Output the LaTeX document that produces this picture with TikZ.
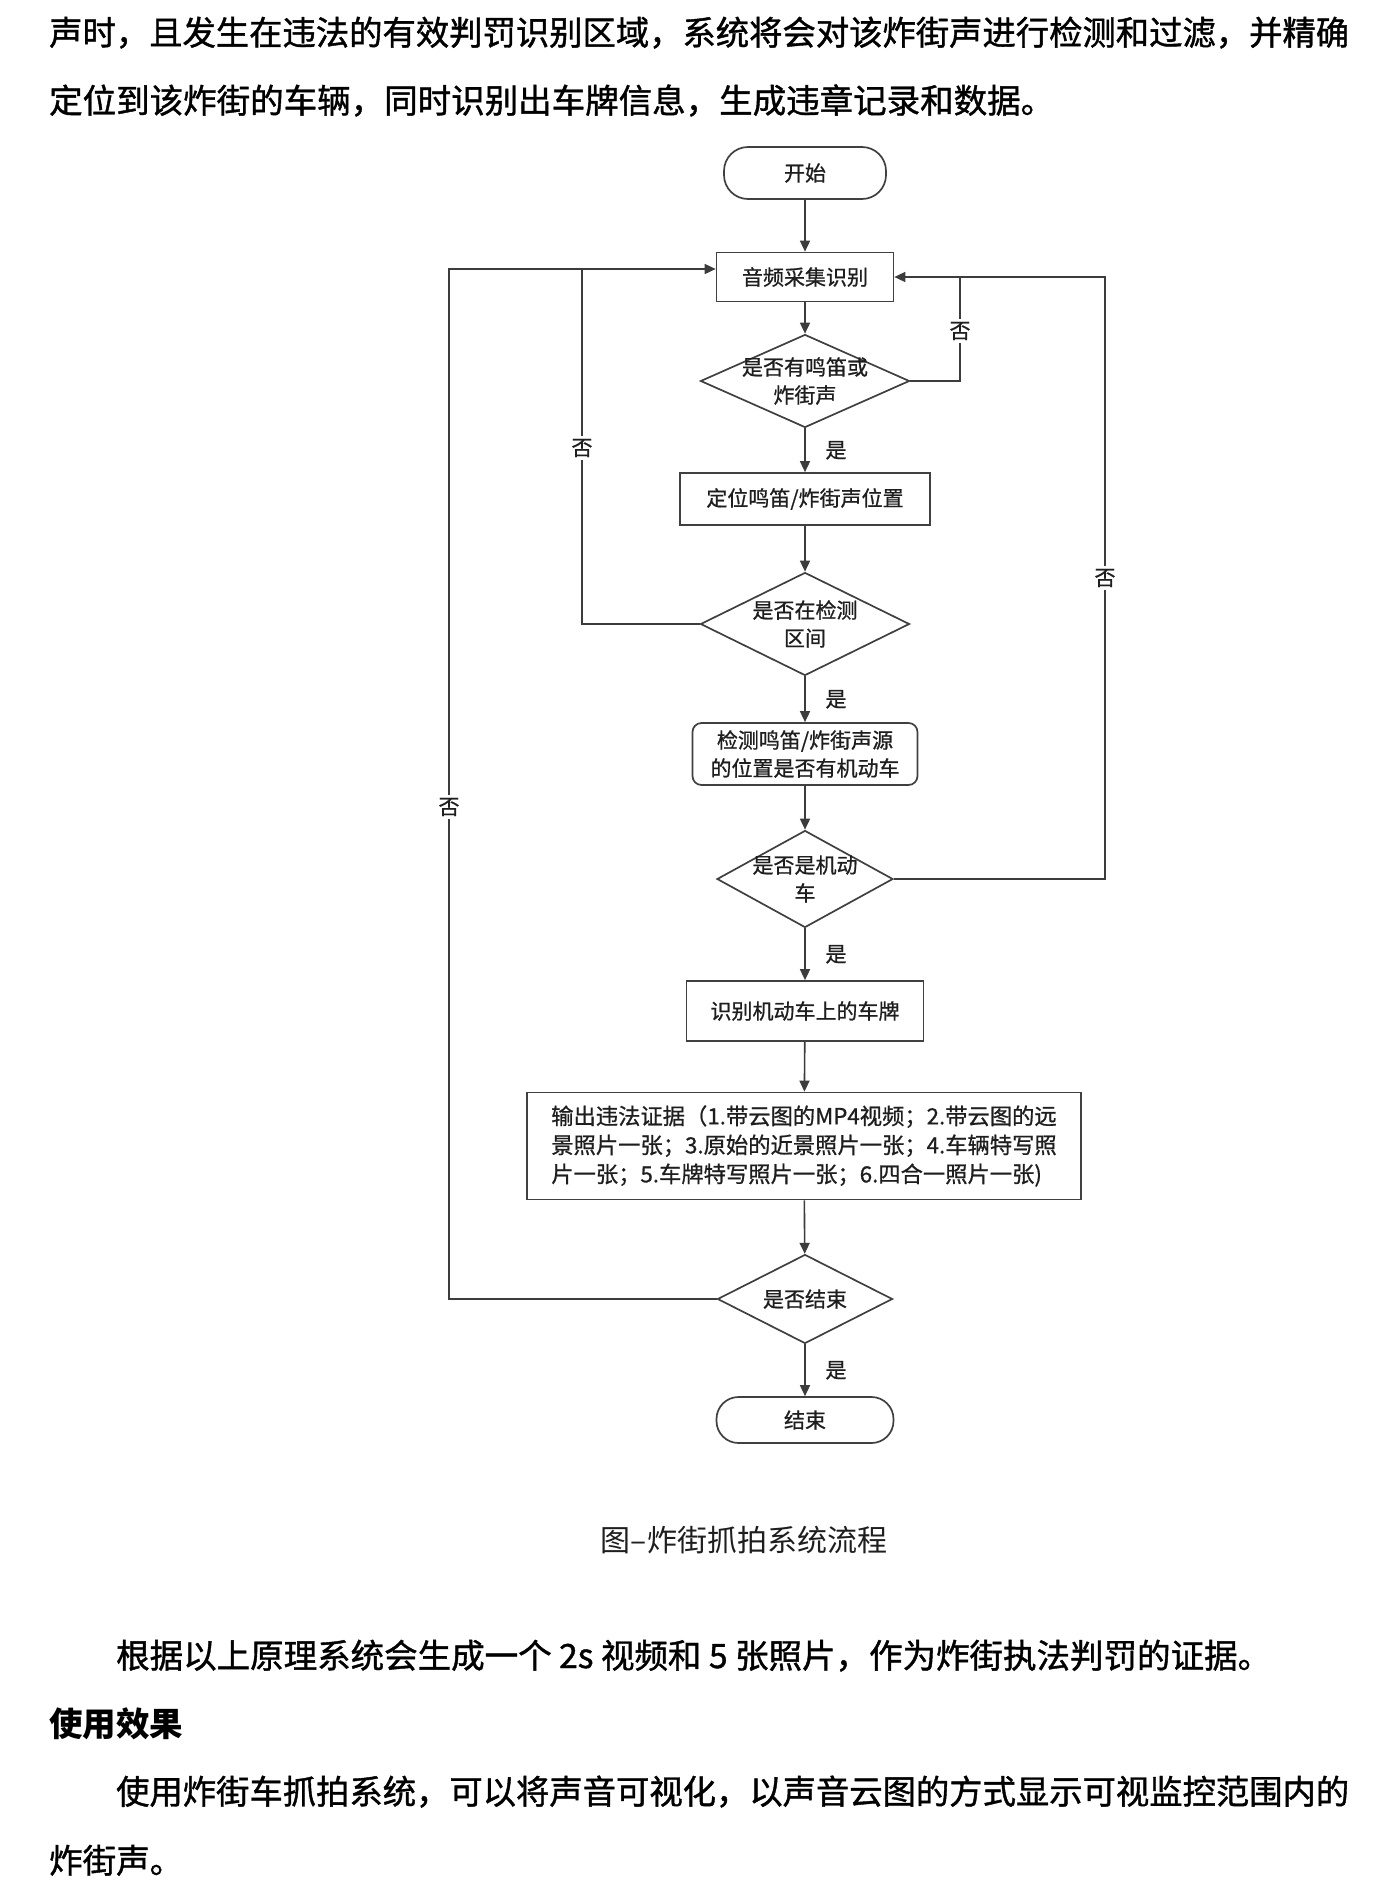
\documentclass[tikz,border=0pt]{standalone}
\usepackage{fontspec}
\setmainfont{Noto Sans CJK SC}
\newfontfamily\heavyfam{Noto Sans CJK SC}[FakeBold=1.2]
\newfontfamily\midfam{Noto Sans CJK SC}[FakeBold=0.8]
\usepackage{graphicx}
\usetikzlibrary{shapes.geometric,arrows.meta}
\definecolor{lc}{HTML}{3C3C3C}
\definecolor{bc}{HTML}{404040}
\definecolor{tc}{HTML}{1E1E1E}
\newcommand\bodyfnt{\heavyfam\fontsize{33.5}{40}\selectfont}
\newcommand\dfnt{\midfam\fontsize{21}{28}\selectfont}
\newcommand\efnt{\midfam\fontsize{22.3}{29}\selectfont}
\begin{document}
\begin{tikzpicture}[x=1pt,y=-1pt,
  line/.style={draw=lc, line width=1.6pt},
  arr/.style={line, -{Triangle[length=11pt,width=10pt]}},
  proc/.style={rectangle, draw=bc, line width=1.7pt, fill=white, inner sep=0pt, font=\dfnt, text=tc, align=center},
  term/.style={proc, rounded corners=24pt},
  dia/.style={diamond, draw=bc, line width=1.7pt, fill=white, inner sep=0pt},
  lbl/.style={font=\dfnt, text=tc, inner sep=0pt, align=center},
  nolbl/.style={lbl, fill=white, inner sep=3pt},
  body/.style={font=\bodyfnt, text=black, inner sep=0pt, anchor=base west}]
\useasboundingbox[fill=white] (0,0) rectangle (1396,1890);

% body text
\node[body] (t1) at (49,45) {\resizebox{1300pt}{\height}{声时，且发生在违法的有效判罚识别区域，系统将会对该炸街声进行检测和过滤，并精确}};
\node[body] (t2) at (49,113) {定位到该炸街的车辆，同时识别出车牌信息，生成违章记录和数据。};

% flowchart nodes
\node[term, minimum width=162pt, minimum height=52pt] (start) at (805,173) {开始};
\node[proc, minimum width=177pt, minimum height=49pt] (box1) at (805,277) {音频采集识别};
\node[dia, minimum width=209pt, minimum height=93pt] (d1) at (805,381) {};
\node[lbl] (d1t) at (d1) {是否有鸣笛或\\炸街声};
\node[proc, minimum width=250pt, minimum height=52pt] (box2) at (805,499) {定位鸣笛/炸街声位置};
\node[dia, minimum width=209pt, minimum height=103pt] (d2) at (805,624) {};
\node[lbl] (d2t) at (d2) {是否在检测\\区间};
\node[proc, rounded corners=9pt, minimum width=225pt, minimum height=62pt] (box3) at (805,754) {检测鸣笛/炸街声源\\的位置是否有机动车};
\node[dia, minimum width=176pt, minimum height=97pt] (d3) at (805,879) {};
\node[lbl] (d3t) at (d3) {是否是机动\\车};
\node[proc, minimum width=237pt, minimum height=60pt] (box4) at (805,1011) {识别机动车上的车牌};
\node[proc, font=\efnt, align=left, minimum width=554pt, minimum height=107pt] (box5) at (804,1146) {输出违法证据（1.带云图的MP4视频；2.带云图的远\\景照片一张；3.原始的近景照片一张；4.车辆特写照\\片一张；5.车牌特写照片一张；6.四合一照片一张)};
\node[dia, minimum width=175pt, minimum height=89pt] (d4) at (805,1299) {};
\node[lbl] (d4t) at (d4) {是否结束};
\node[term, minimum width=177pt, minimum height=46pt, rounded corners=22pt] (end) at (805,1420) {结束};

% loop rails
\coordinate (rin) at (960,0);
\coordinate (rout) at (1105,0);
\coordinate (lin) at (582,0);
\coordinate (lout) at (449,0);
\coordinate (b1w) at ([yshift=8pt]box1.west);

% main flow
\draw[arr] (start) -- (box1);
\draw[arr] (box1) -- (d1);
\draw[arr] (d1) -- node[lbl, midway, xshift=31pt] {是} (box2);
\draw[arr] (box2) -- (d2);
\draw[arr] (d2) -- node[lbl, midway, xshift=31pt] {是} (box3);
\draw[arr] (box3) -- (d3);
\draw[arr] (d3) -- node[lbl, midway, xshift=31pt] {是} (box4);
\draw[arr] (box4) -- (box5);
\draw[arr] (box5) -- (d4);
\draw[arr] (d4) -- node[lbl, midway, xshift=31pt] {是} (end);

% feedback loops
\draw[arr] (d1.east) -- (d1.east -| rin) -- (rin |- box1.east) -- (box1.east);
\draw[line] (d3.east) -- (d3.east -| rout) -- (rout |- box1.east) -- (rin |- box1.east);
\draw[line] (d2.west) -- (d2.west -| lin) -- (lin |- b1w);
\draw[arr] (d4.west) -- (d4.west -| lout) -- (lout |- b1w) -- (b1w);

% "no" labels on the loops
\node[nolbl] (n1) at (960,331) {否};
\node[nolbl] (n2) at (1105,578) {否};
\node[nolbl] (n3) at (582,448) {否};
\node[nolbl] (n4) at (449,807) {否};

% caption and following text
\node[font=\fontsize{30}{36}\selectfont, text=tc, inner sep=0pt] (cap) at (744,1540) {图–炸街抓拍系统流程};
\node[body] (t3) at (116,1668) {根据以上原理系统会生成一个 2s 视频和 5 张照片，作为炸街执法判罚的证据。};
\node[body, font=\rmfamily\fontsize{33.5}{40}\selectfont\bfseries] (t4) at (49,1736) {使用效果};
\node[body] (t5) at (116,1804) {\resizebox{1233pt}{\height}{使用炸街车抓拍系统，可以将声音可视化，以声音云图的方式显示可视监控范围内的}};
\node[body] (t6) at (49,1873) {炸街声。};
\end{tikzpicture}
\end{document}
